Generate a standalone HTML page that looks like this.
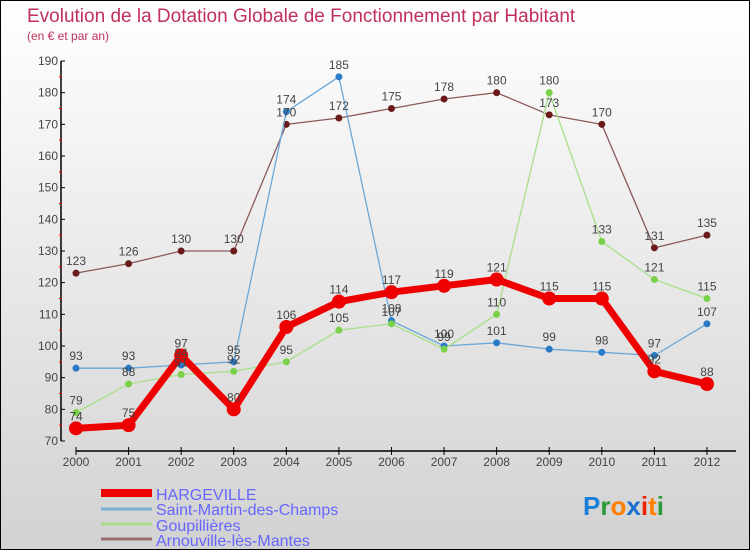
<!DOCTYPE html>
<html><head><meta charset="utf-8"><style>
html,body{margin:0;padding:0}
body{width:750px;height:550px;overflow:hidden;font-family:"Liberation Sans",sans-serif}
#wrap{position:relative;width:748px;height:548px;border:1px solid #000;background:linear-gradient(#ffffff,#d2d2d2)}
</style></head><body>
<div id="wrap">
<svg id="svg" width="748" height="548" xmlns="http://www.w3.org/2000/svg">
<text x="26" y="21" font-size="19" fill="#c0305a">Evolution de la Dotation Globale de Fonctionnement par Habitant</text>
<text x="26" y="39" font-size="12" fill="#c0305a">(en € et par an)</text>
<g id="axes"></g><g id="series"></g><g id="labels"></g>
<g>
<line x1="100" y1="492" x2="151" y2="492" stroke="#ee0000" stroke-width="8"/>
<text x="155" y="499" font-size="16" fill="#6666ff">HARGEVILLE</text>
<line x1="100" y1="508" x2="151" y2="508" stroke="#7aaed0" stroke-width="3"/>
<text x="155" y="514" font-size="16" fill="#6666ff">Saint-Martin-des-Champs</text>
<line x1="100" y1="523" x2="151" y2="523" stroke="#a8dc88" stroke-width="3"/>
<text x="155" y="530" font-size="16" fill="#6666ff">Goupillières</text>
<line x1="100" y1="538" x2="151" y2="538" stroke="#9a6e6e" stroke-width="3"/>
<text x="155" y="545" font-size="16" fill="#6666ff">Arnouville-lès-Mantes</text>
</g>
<g font-size="26" font-weight="bold">
<text x="582" y="514"><tspan fill="#1a7fd8">P</tspan><tspan fill="#2a9a3a">r</tspan><tspan fill="#ff7f00">o</tspan><tspan fill="#1a6fd0">x</tspan><tspan fill="#ee2200">i</tspan><tspan fill="#ff7f00">t</tspan><tspan fill="#2a9a3a">i</tspan></text>
</g>
</svg>
</div>
<script>
const years=["2000","2001","2002","2003","2004","2005","2006","2007","2008","2009","2010","2011","2012"];
const hargeville=[74,75,97,80,106,114,117,119,121,115,115,92,88];
const saintMartin=[93,93,94,95,174,185,108,100,101,99,98,97,107];
const goupillieres=[79,88,91,92,95,105,107,99,110,180,133,121,115];
const arnouville=[123,126,130,130,170,172,175,178,180,173,170,131,135];
const yTicks=[70,80,90,100,110,120,130,140,150,160,170,180,190];
const NS="http://www.w3.org/2000/svg";
const x=i=>75+i*52.58;
const y=v=>440-(v-70)*(380/120);
function mk(tag,attrs,parent){const e=document.createElementNS(NS,tag);for(const k in attrs)e.setAttribute(k,attrs[k]);parent.appendChild(e);return e;}
const axes=document.getElementById('axes'),ser=document.getElementById('series'),lab=document.getElementById('labels');
let e=mk('line',{x1:60,y1:y(190),x2:60,y2:440,stroke:'#000','stroke-width':1.5},axes);


e=mk('line',{x1:75,y1:450,x2:735,y2:450,stroke:'#000','stroke-width':1.5},axes);


yTicks.forEach(v=>{
 mk('line',{x1:60,y1:y(v),x2:64,y2:y(v),stroke:'#000'},axes);
 if(v<190) mk('line',{x1:58,y1:y(v+5),x2:61,y2:y(v+5),stroke:'#f00'},axes);
 const t=mk('text',{x:57,y:y(v)+4,'font-size':12,fill:'#444','text-anchor':'end'},axes);
 t.textContent=v;
 
 
});
years.forEach((yr,i)=>{
 mk('line',{x1:x(i),y1:446,x2:x(i),y2:454,stroke:'#000'},axes);
 const t=mk('text',{x:x(i),y:465,'font-size':12,fill:'#444','text-anchor':'middle'},axes);
 t.textContent=yr;
 
 
});
function series(data,color,dot,w,r,name){
 const g=mk('g',{},ser);
 
 
 mk('polyline',{points:data.map((v,i)=>x(i)+','+y(v)).join(' '),fill:'none',stroke:color,'stroke-width':w,'stroke-linejoin':'round'},g);
 data.forEach((v,i)=>{
  const c=mk('circle',{cx:x(i),cy:y(v),r:r,fill:dot},g);
  
  
  const t=mk('text',{x:x(i),y:y(v)-8,'font-size':12,fill:'#444','text-anchor':'middle'},lab);
  t.textContent=v;
  
  
 });
}
series(arnouville,'#8a5a5a','#6a1a1a',1.3,3.5,'arnouville');
series(saintMartin,'#6aa8d8','#2a7ac8',1.3,3.5,'saint-martin');
series(goupillieres,'#a8e088','#7ad048',1.3,3.5,'goupillieres');
series(hargeville,'#ee0000','#ee0000',7,7,'hargeville');
</script>
</body></html>
